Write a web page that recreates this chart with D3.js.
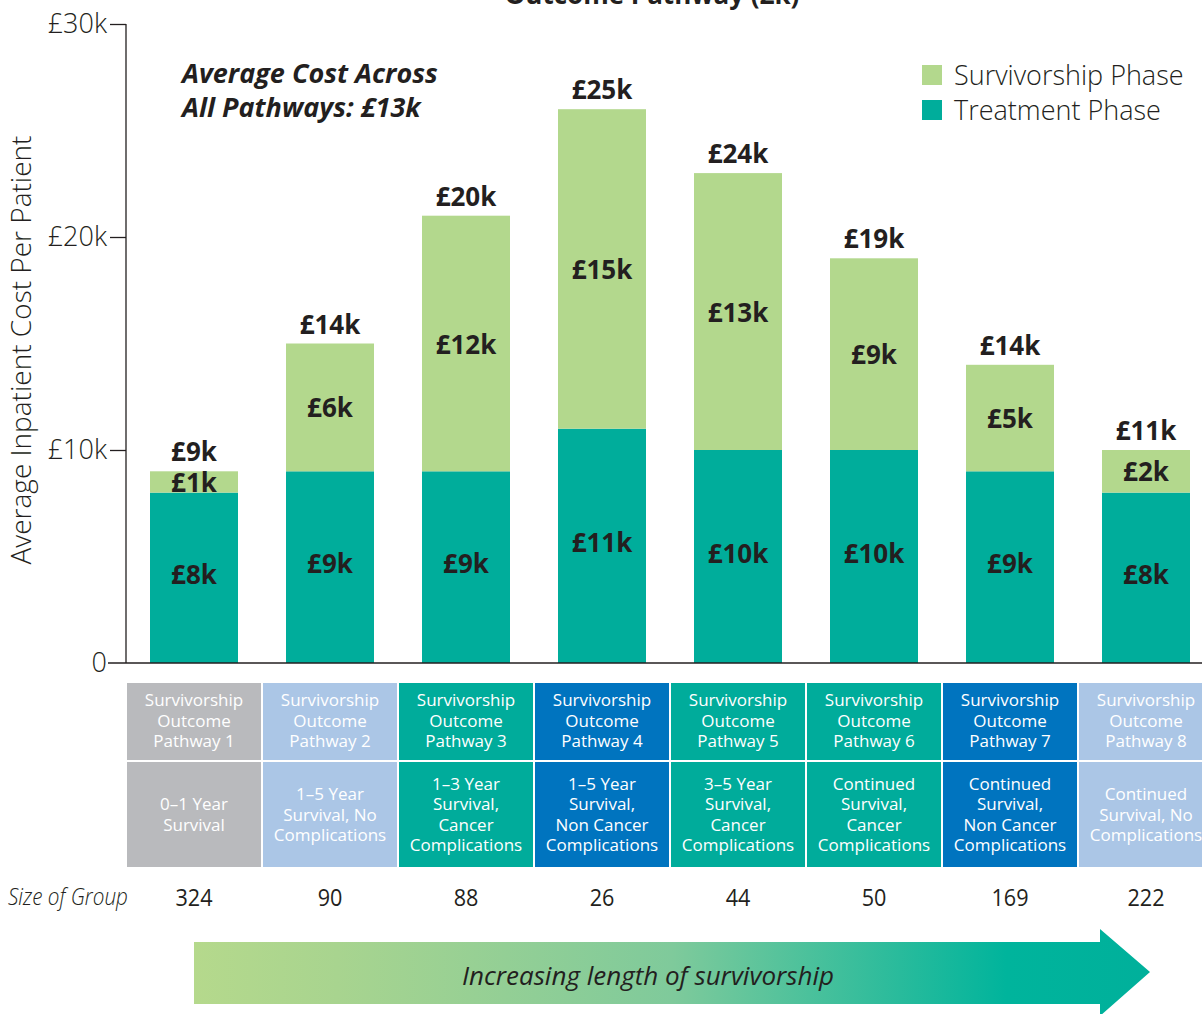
<!DOCTYPE html>
<html><head><meta charset="utf-8">
<script src="https://cdn.jsdelivr.net/npm/d3@7"></script>
<style>
html,body{margin:0;padding:0;background:#fff;}
svg{display:block;font-family:"Open Sans","Lato",sans-serif;}
</style></head>
<body>
<svg id="chart" width="1202" height="1014"></svg>
<script>
// ---- data ----
const pathways = ["Pathway 1","Pathway 2","Pathway 3","Pathway 4","Pathway 5","Pathway 6","Pathway 7","Pathway 8"];
const treatment = [8, 9, 9, 11, 10, 10, 9, 8];          // £k (drawn)
const survivorship = [1, 6, 12, 15, 13, 9, 5, 2];       // £k (drawn)
const totalLabels = ["£9k","£14k","£20k","£25k","£24k","£19k","£14k","£11k"];
const survLabels = ["£1k","£6k","£12k","£15k","£13k","£9k","£5k","£2k"];
const treatLabels = ["£8k","£9k","£9k","£11k","£10k","£10k","£9k","£8k"];
const rowTop = [
  ["Survivorship","Outcome","Pathway 1"],["Survivorship","Outcome","Pathway 2"],
  ["Survivorship","Outcome","Pathway 3"],["Survivorship","Outcome","Pathway 4"],
  ["Survivorship","Outcome","Pathway 5"],["Survivorship","Outcome","Pathway 6"],
  ["Survivorship","Outcome","Pathway 7"],["Survivorship","Outcome","Pathway 8"]];
const rowBottom = [
  ["0–1 Year","Survival"],["1–5 Year","Survival, No","Complications"],
  ["1–3 Year","Survival,","Cancer","Complications"],["1–5 Year","Survival,","Non Cancer","Complications"],
  ["3–5 Year","Survival,","Cancer","Complications"],["Continued","Survival,","Cancer","Complications"],
  ["Continued","Survival,","Non Cancer","Complications"],["Continued","Survival, No","Complications"]];
const cellColors = ["#b9babd","#abc6e6","#00ac9b","#0074bf","#00ac9b","#00ac9b","#0074bf","#abc6e6"];
const groupSizes = [324, 90, 88, 26, 44, 50, 169, 222];
const yTicks = [0, 10, 20, 30];
const yTickLabels = ["0","£10k","£20k","£30k"];

const svg = d3.select("#chart");
const dark = "#231f20";
const cSurv = "#b3d88d", cTreat = "#00ad9b";

const x = d3.scaleBand().domain(pathways).range([126, 126 + 136*8]).paddingInner(48/136).paddingOuter(24/136);
const xb = d3.scaleBand().domain(pathways).range([126, 126 + 136*8]).padding(0);
const y = d3.scaleLinear().domain([0, 30]).range([663, 24]);

// title (cut off at top)
svg.append("text").attr("x", 652).attr("y", 4).attr("text-anchor","middle")
  .attr("font-size", 26).attr("font-weight","bold").attr("fill", dark).text("Outcome Pathway (£k)");

// bars
const g = svg.append("g");
pathways.forEach((p,i)=>{
  const t = treatment[i], s = survivorship[i];
  g.append("rect").attr("x", x(p)).attr("width", x.bandwidth())
    .attr("y", y(t)).attr("height", y(0)-y(t)).attr("fill", cTreat);
  g.append("rect").attr("x", x(p)).attr("width", x.bandwidth())
    .attr("y", y(t+s)).attr("height", y(t)-y(t+s)).attr("fill", cSurv);
  const cx = x(p) + x.bandwidth()/2;
  const lab = (yy, txt) => g.append("text").attr("x", cx).attr("y", yy)
    .attr("text-anchor","middle").attr("dominant-baseline","central")
    .attr("font-size", 26).attr("font-weight","bold").attr("fill", dark).text(txt);
  lab(y(t)/2 + y(0)/2 - 4, treatLabels[i]);
  lab((y(t)+y(t+s))/2, survLabels[i]);
  lab(y(t+s) - 20, totalLabels[i]);
});

// axes
const yAxis = d3.axisLeft(y).tickValues(yTicks).tickFormat((d,i)=>yTickLabels[i]).tickSize(16).tickPadding(3);
const ya = svg.append("g").attr("transform","translate(126,0)").call(yAxis);
ya.select(".domain").attr("stroke", dark).attr("stroke-width",1.3).attr("d","M0,24V663");
ya.selectAll(".tick line").attr("stroke", dark).attr("stroke-width",1.3);
ya.selectAll(".tick text").attr("font-size", 27).attr("fill", dark).attr("font-family","'Open Sans',sans-serif").attr("font-weight",300);
ya.selectAll(".tick").filter(d=>d===0).select("line").remove();
svg.append("line").attr("x1",108).attr("x2",1202).attr("y1",663).attr("y2",663).attr("stroke",dark).attr("stroke-width",1.3);

svg.append("text").attr("transform","translate(31,350) rotate(-90)").attr("text-anchor","middle")
  .attr("font-size", 28).attr("fill", dark).attr("font-weight",300).text("Average Inpatient Cost Per Patient");

// annotation
const ann = svg.append("text").attr("font-size", 27).attr("font-weight","bold").attr("font-style","italic").attr("fill", dark);
ann.append("tspan").attr("x",182).attr("y",83).text("Average Cost Across");
ann.append("tspan").attr("x",182).attr("y",117).text("All Pathways: £13k");

// legend
const legend = [["Survivorship Phase", cSurv],["Treatment Phase", cTreat]];
legend.forEach((l,i)=>{
  svg.append("rect").attr("x",922).attr("y",65+i*35).attr("width",20).attr("height",20).attr("fill",l[1]);
  svg.append("text").attr("x",954).attr("y",85+i*35).attr("font-size",27).attr("fill",dark).attr("font-weight",300).text(l[0]);
});

// table
pathways.forEach((p,i)=>{
  const x0 = xb(p)+1, w = xb.bandwidth()-2;
  svg.append("rect").attr("x",x0).attr("y",683).attr("width",w).attr("height",77).attr("fill",cellColors[i]);
  svg.append("rect").attr("x",x0).attr("y",762).attr("width",w).attr("height",105).attr("fill",cellColors[i]);
  const cx = xb(p)+xb.bandwidth()/2;
  const t1 = svg.append("text").attr("text-anchor","middle").attr("font-size",17).attr("fill","#fff");
  rowTop[i].forEach((ln,k)=>t1.append("tspan").attr("x",cx).attr("y",706+k*20.5).text(ln));
  const lines = rowBottom[i];
  const start = 814.5 - (lines.length-1)*20.5/2 + 6;
  const t2 = svg.append("text").attr("text-anchor","middle").attr("font-size",17).attr("fill","#fff");
  lines.forEach((ln,k)=>t2.append("tspan").attr("x",cx).attr("y",start+k*20.5).text(ln));
  svg.append("text").attr("transform",`translate(${cx},906) scale(0.9,1)`).attr("text-anchor","middle")
    .attr("font-size",24).attr("fill",dark).text(groupSizes[i]);
});
svg.append("text").attr("transform","translate(8,905) scale(0.9,1)").attr("font-size",23).attr("font-style","italic").attr("fill",dark)
  .attr("font-weight",300).text("Size of Group");

// arrow
const defs = svg.append("defs");
const grad = defs.append("linearGradient").attr("id","ag").attr("x1",194).attr("x2",1150).attr("y1",0).attr("y2",0).attr("gradientUnits","userSpaceOnUse");
grad.append("stop").attr("offset","0%").attr("stop-color","#b5d98c");
grad.append("stop").attr("offset","15%").attr("stop-color","#a8d48f");
grad.append("stop").attr("offset","50%").attr("stop-color","#7fca9b");
grad.append("stop").attr("offset","85%").attr("stop-color","#00b49c");
grad.append("stop").attr("offset","100%").attr("stop-color","#00b09b");
svg.append("path").attr("d","M194,942H1100V929L1150,972L1100,1016V1004H194Z").attr("fill","url(#ag)");
svg.append("text").attr("x",648).attr("y",985).attr("text-anchor","middle").attr("font-size",26)
  .attr("font-style","italic").attr("fill",dark).text("Increasing length of survivorship");
</script>
</body></html>
